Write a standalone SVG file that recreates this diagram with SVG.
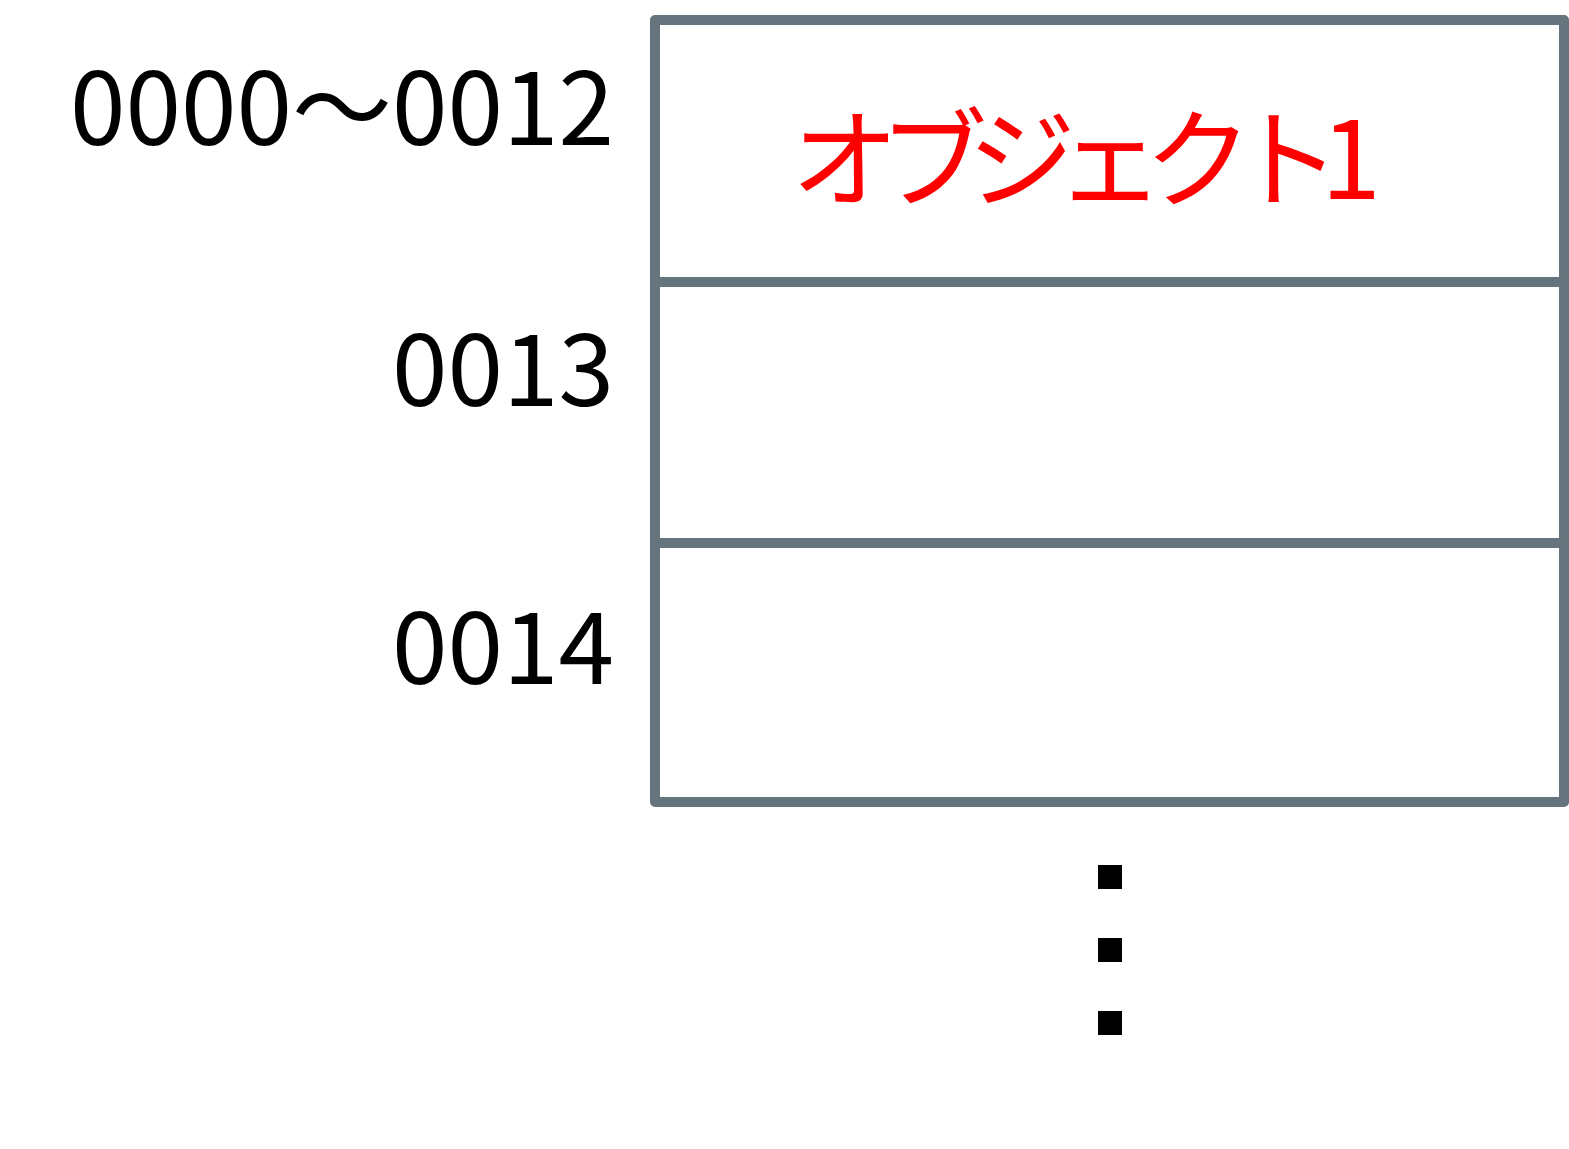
<svg xmlns="http://www.w3.org/2000/svg" width="1569" height="1149" viewBox="0 0 1569 1149">
<style>
.cell{fill:#ffffff;stroke:#66757d;stroke-width:10;stroke-linejoin:round}
.addr{font-family:"Noto Sans CJK JP","Noto Sans",sans-serif;font-size:100px;fill:#000000;text-anchor:end}
.obj{font-family:"Noto Sans CJK JP","Noto Sans",sans-serif;font-size:108px;fill:#ff0000}
.dot{fill:#000000}
</style>
<rect width="1569" height="1149" fill="#ffffff"/>
<g id="cell1">
<rect class="cell" x="655" y="20" width="909" height="262"/>
<text class="obj" x="791" y="199" textLength="590" lengthAdjust="spacing">オブジェクト1</text>
</g>
<g id="cell2">
<rect class="cell" x="655" y="282" width="909" height="261"/>
</g>
<g id="cell3">
<rect class="cell" x="655" y="543" width="909" height="259"/>
</g>
<g id="labels">
<text class="addr" x="614" y="145">0000〜0012</text>
<text class="addr" x="614" y="406">0013</text>
<text class="addr" x="614" y="684">0014</text>
</g>
<g id="ellipsis">
<rect class="dot" x="1098" y="865" width="24" height="24"/>
<rect class="dot" x="1098" y="938" width="24" height="24"/>
<rect class="dot" x="1098" y="1011" width="24" height="24"/>
</g>
<g id="connectors"></g>
</svg>
